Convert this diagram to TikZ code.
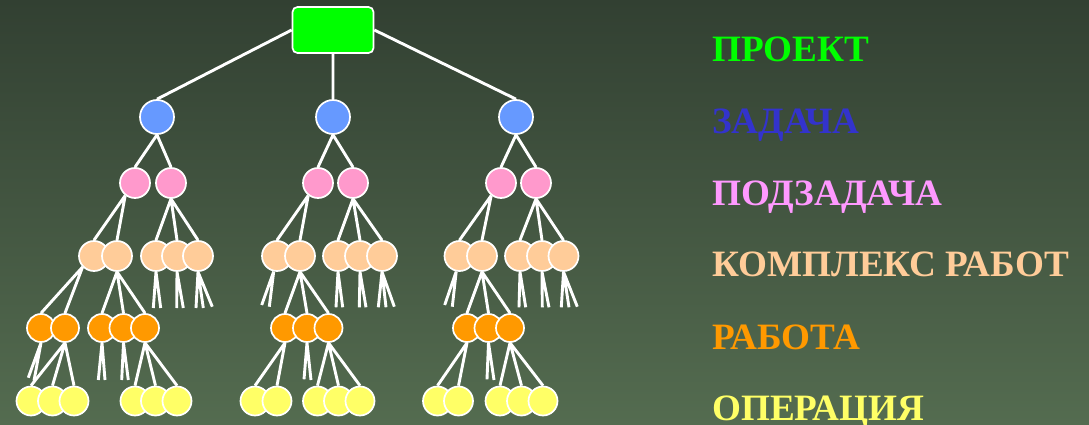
\documentclass[tikz,border=0pt]{standalone}
\usepackage{fontspec}
\setmainfont{Liberation Serif}
\pgfdeclarelayer{bg}
\pgfdeclarelayer{edges}
\pgfsetlayers{bg,edges,main}
\definecolor{bgtop}{RGB}{50,64,50}
\definecolor{bgbot}{RGB}{84,108,80}
\definecolor{cgreen}{HTML}{00FF00}
\definecolor{cblue}{HTML}{6699FF}
\definecolor{cpink}{HTML}{FF99CC}
\definecolor{cpeach}{HTML}{FFCC99}
\definecolor{corange}{HTML}{FF9900}
\definecolor{cyellow}{HTML}{FFFF66}
\definecolor{tblue}{HTML}{3333CC}
\definecolor{tpink}{HTML}{FF99FF}
\begin{document}
\begin{tikzpicture}[x=1pt,y=-1pt,
  ball/.style={circle,draw=white,line width=1.7pt,inner sep=0pt},
  bluen/.style={ball,fill=cblue,minimum size=34pt},
  pinkn/.style={ball,fill=cpink,minimum size=30pt},
  peachn/.style={ball,fill=cpeach,minimum size=30pt},
  orangen/.style={ball,fill=corange,minimum size=28pt},
  yellown/.style={ball,fill=cyellow,minimum size=29pt},
  rootn/.style={rectangle,rounded corners=5pt,draw=white,line width=1.7pt,fill=cgreen,minimum width=81pt,minimum height=46pt},
  link/.style={draw=white,line width=2.9pt},
  legend/.style={anchor=base west,inner sep=0pt,font=\bfseries\fontsize{37.2}{40}\selectfont}]
\useasboundingbox (0,0) rectangle (1089,425);
\begin{pgfonlayer}{bg}
\shade[top color=bgtop,bottom color=bgbot] (0,0) rectangle (1089,425);
\end{pgfonlayer}

% root and tasks
\node[rootn] (root) at (333,30) {};
\node[bluen] (b1) at (157,117) {};
\node[bluen] (b2) at (333,117) {};
\node[bluen] (b3) at (516,117) {};

% subtasks
\node[pinkn] (p11) at (135,183) {};
\node[pinkn] (p12) at (171,183) {};
\node[pinkn] (p21) at (318,183) {};
\node[pinkn] (p22) at (353,183) {};
\node[pinkn] (p31) at (501,183) {};
\node[pinkn] (p32) at (536,183) {};

% work packages
\foreach \n/\x in {c11/94,c12/117,c13/156,c14/177,c15/198,
                   c21/277,c22/300,c23/338,c24/360,c25/382,
                   c31/459.5,c32/482,c33/520,c34/542,c35/563.5}
  \node[peachn] (\n) at (\x,256) {};

% works
\foreach \n/\x in {o11/41,o12/65,o13/102,o14/123.5,o15/145,
                   o21/285,o22/307,o23/328.5,
                   o31/467,o32/488.5,o33/510}
  \node[orangen] (\n) at (\x,328) {};

% operations
\foreach \n/\x in {y11/31,y12/52.5,y13/74,y14/135,y15/155.5,y16/177,
                   y21/255,y22/277,y23/317.5,y24/338.5,y25/360,
                   y31/437.5,y32/458.5,y33/500,y34/521.5,y35/543}
  \node[yellown] (\n) at (\x,401) {};

% free ends of cut branches
\coordinate (s13a) at (153.3,308); \coordinate (s13b) at (160.7,308);
\coordinate (s14a) at (176.7,308); \coordinate (s14b) at (183.3,308);
\coordinate (s15a) at (196,308); \coordinate (s15b) at (203.3,308); \coordinate (s15c) at (212.3,306.7);
\coordinate (t11a) at (28.3,377.7); \coordinate (t11b) at (34,380.7);
\coordinate (t13a) at (98.3,380); \coordinate (t13b) at (105,380);
\coordinate (t14a) at (121.7,380); \coordinate (t14b) at (128.3,380);
\coordinate (s21a) at (261.7,305); \coordinate (s21b) at (269.3,306.7);
\coordinate (s23a) at (336,307.3); \coordinate (s23b) at (342.7,307.3);
\coordinate (s24a) at (359.3,307.3); \coordinate (s24b) at (366,307.3);
\coordinate (s25a) at (378.3,307.3); \coordinate (s25b) at (386,307.3); \coordinate (s25c) at (394.3,306.7);
\coordinate (t22a) at (304,379.3); \coordinate (t22b) at (311,380);
\coordinate (s31a) at (444.7,305); \coordinate (s31b) at (452.3,306.7);
\coordinate (s33a) at (519,307.3); \coordinate (s33b) at (525.7,307.3);
\coordinate (s34a) at (542.3,307.3); \coordinate (s34b) at (549,307.3);
\coordinate (s35a) at (561.3,307.3); \coordinate (s35b) at (569,307.3); \coordinate (s35c) at (577.3,306.7);
\coordinate (t32a) at (487,379.3); \coordinate (t32b) at (494,380);

\begin{pgfonlayer}{edges}
\path[link] (root.west) -- (b1.north) (root.south) -- (b2.north) (root.east) -- (b3.north);
% group 1
\path[link] (b1.south) -- (p11.north) (b1.south) -- (p12.north);
\path[link] (p11.232) -- (c11.north) (p11.232) -- (c12.north);
\path[link] (p12.south) -- (c13.north) (p12.south) -- (c14.north) (p12.south) -- (c15.north);
\path[link] (c11.224) -- (o11.north) (c11.224) -- (o12.north);
\path[link] (c12.south) -- (o13.north) (c12.south) -- (o14.north) (c12.south) -- (o15.north);
\path[link] (c13.south) -- (s13a) (c13.south) -- (s13b);
\path[link] (c14.south) -- (s14a) (c14.south) -- (s14b);
\path[link] (c15.south) -- (s15a) (c15.south) -- (s15b) (c15.south) -- (s15c);
\path[link] (o11.south) -- (t11a) (o11.south) -- (t11b);
\path[link] (o12.south) -- (y11.north) (o12.south) -- (y12.north) (o12.south) -- (y13.north);
\path[link] (o13.south) -- (t13a) (o13.south) -- (t13b);
\path[link] (o14.south) -- (t14a) (o14.south) -- (t14b);
\path[link] (o15.south) -- (y14.north) (o15.south) -- (y15.north) (o15.south) -- (y16.north);
% group 2
\path[link] (b2.south) -- (p21.north) (b2.south) -- (p22.north);
\path[link] (p21.232) -- (c21.north) (p21.232) -- (c22.north);
\path[link] (p22.south) -- (c23.north) (p22.south) -- (c24.north) (p22.south) -- (c25.north);
\path[link] (c21.258) -- (s21a) (c21.258) -- (s21b);
\path[link] (c22.south) -- (o21.north) (c22.south) -- (o22.north) (c22.south) -- (o23.north);
\path[link] (c23.south) -- (s23a) (c23.south) -- (s23b);
\path[link] (c24.south) -- (s24a) (c24.south) -- (s24b);
\path[link] (c25.south) -- (s25a) (c25.south) -- (s25b) (c25.south) -- (s25c);
\path[link] (o21.south) -- (y21.north) (o21.south) -- (y22.north);
\path[link] (o22.south) -- (t22a) (o22.south) -- (t22b);
\path[link] (o23.south) -- (y23.north) (o23.south) -- (y24.north) (o23.south) -- (y25.north);
% group 3
\path[link] (b3.south) -- (p31.north) (b3.south) -- (p32.north);
\path[link] (p31.232) -- (c31.north) (p31.232) -- (c32.north);
\path[link] (p32.south) -- (c33.north) (p32.south) -- (c34.north) (p32.south) -- (c35.north);
\path[link] (c31.258) -- (s31a) (c31.258) -- (s31b);
\path[link] (c32.south) -- (o31.north) (c32.south) -- (o32.north) (c32.south) -- (o33.north);
\path[link] (c33.south) -- (s33a) (c33.south) -- (s33b);
\path[link] (c34.south) -- (s34a) (c34.south) -- (s34b);
\path[link] (c35.south) -- (s35a) (c35.south) -- (s35b) (c35.south) -- (s35c);
\path[link] (o31.south) -- (y31.north) (o31.south) -- (y32.north);
\path[link] (o32.south) -- (t32a) (o32.south) -- (t32b);
\path[link] (o33.south) -- (y33.north) (o33.south) -- (y34.north) (o33.south) -- (y35.north);
\end{pgfonlayer}

% legend
\node[legend,text=cgreen]  (l1) at (712,62)  {ПРОЕКТ};
\node[legend,text=tblue]   (l2) at (712,134) {ЗАДАЧА};
\node[legend,text=tpink]   (l3) at (712,205) {ПОДЗАДАЧА};
\node[legend,text=cpeach]  (l4) at (712,276) {КОМПЛЕКС РАБОТ};
\node[legend,text=corange] (l5) at (712,349) {РАБОТА};
\node[legend,text=cyellow] (l6) at (712,420) {ОПЕРАЦИЯ};
\end{tikzpicture}
\end{document}
